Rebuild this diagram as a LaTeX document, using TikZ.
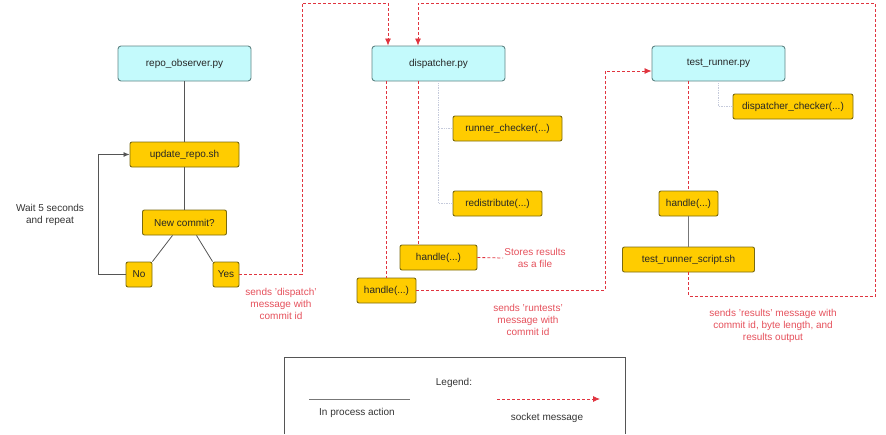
\documentclass[tikz,border=0pt]{standalone}
\usepackage{fontspec}
\setmainfont{Liberation Sans}
\usetikzlibrary{arrows.meta}

\definecolor{pyfill}{HTML}{C4FAFC}
\definecolor{pyline}{HTML}{5F8585}
\definecolor{fnfill}{HTML}{FFCC00}
\definecolor{fnline}{HTML}{7A6A10}
\definecolor{sockred}{HTML}{E0343F}
\definecolor{labred}{HTML}{E5505B}
\definecolor{procgray}{HTML}{555555}
\definecolor{dotgray}{HTML}{C5CADB}

\tikzset{
  pybox/.style={draw=pyline, line width=0.9pt, fill=pyfill, rounded corners=3pt, minimum width=133pt, minimum height=35pt, inner sep=0pt, text=black!85},
  fnbox/.style={draw=fnline, line width=0.9pt, fill=fnfill, rounded corners=2pt, minimum height=25pt, inner sep=0pt, text=black!85},
  procline/.style={procgray, line width=0.8pt},
  sockline/.style={sockred, line width=0.8pt, dash pattern=on 3pt off 2pt},
  sockmsg/.style={sockline, -{Latex[length=7pt,width=6pt]}},
  helper/.style={dotgray, line width=0.7pt, densely dotted},
  redlabel/.style={text=labred, align=center, inner sep=1pt}
}

\begin{document}
\begin{tikzpicture}[x=1pt, y=-1pt, font=\fontsize{10}{12}\selectfont]
\useasboundingbox (0,0) rectangle (886,434);

% processes
\node (repo) at (184.5, 63.5)[pybox] {repo\_observer.py};
\node (disp) at (438.5, 63.5)[pybox] {dispatcher.py};
\node (test) at (718.5, 63.5)[pybox] {test\_runner.py};

% repo observer side
\node (update) at (184.5, 154.5)[fnbox, minimum width=109pt] {update\_repo.sh};
\node (newc) at (184.5, 222.5)[fnbox, minimum width=84pt] {New commit?};
\node (no) at (139, 274.5)[fnbox, minimum width=26pt] {No};
\node (yes) at (226, 274.5)[fnbox, minimum width=26pt] {Yes};
\node (wait) at (50, 215)[align=center, text=black!80] {Wait 5 seconds\\and repeat};

\draw[procline] (repo) -- (update);
\draw[procline] (update) -- (newc);
\draw[procline] ([xshift=-12pt]newc.south) -- (no.north east);
\draw[procline] ([xshift=12pt]newc.south) -- (yes.north west);
\draw[procline, -{Latex[length=6pt,width=5pt]}] (no.west) -- ++(-27,0) |- (update.west);

% dispatcher side
\node (runchk) at (507.5, 128.5)[fnbox, minimum width=109pt] {runner\_checker(...)};
\node (redist) at (497.5, 203.5)[fnbox, minimum width=89pt] {redistribute(...)};
\node (handleA) at (438.5, 257.5)[fnbox, minimum width=77pt] {handle(...)};
\node (handleB) at (386.5, 290.5)[fnbox, minimum width=59pt] {handle(...)};
\node (stores) at (535, 258)[redlabel] {Stores results\\as a file};

\draw[helper] (disp.south) |- (runchk.west);
\draw[helper] (disp.south) |- (redist.west);
\draw[sockline] ([xshift=-20.5pt]disp.south) -- ([xshift=-20.5pt]handleA.north);
\draw[sockline] ([xshift=-52pt]disp.south) -- (handleB.north);
\draw[sockline] (handleA.east) -- (stores.west);

% test runner side
\node (dchk) at (793, 106.5)[fnbox, minimum width=120pt] {dispatcher\_checker(...)};
\node (handleC) at (688.5, 203.5)[fnbox, minimum width=59pt] {handle(...)};
\node (script) at (688.5, 259.5)[fnbox, minimum width=132pt] {test\_runner\_script.sh};

\draw[helper] (test.south) |- (dchk.west);
\draw[sockline] ([xshift=-30pt]test.south) -- (handleC.north);
\draw[procline, procgray!80] (handleC) -- (script);

% socket messages
\coordinate (dispTop) at (302, 3);
\coordinate (resTop) at (875, 3);
\coordinate (runBend) at (605, 71);
\draw[sockmsg] (yes.east) -| (dispTop) -| ([xshift=-50.5pt]disp.north);
\draw[sockmsg] (handleB.east) -| (runBend) -- ([yshift=-7.5pt]test.west);
\draw[sockmsg] (script.south) -- ++(0,24) -| (resTop) -| ([xshift=-20.5pt]disp.north);

\node (dispmsg) at (281, 304)[redlabel] {sends 'dispatch'\\message with\\commit id};
\node (runmsg) at (528, 320)[redlabel] {sends 'runtests'\\message with\\commit id};
\node (resmsg) at (773, 326)[redlabel] {sends 'results' message with\\commit id, byte length, and\\results output};

% legend
\draw[procgray, line width=0.8pt] (284,434) |- (625,357) -- (625,434);
\node (legend) at (454, 383)[text=black!80] {Legend:};
\coordinate (procA) at (309, 399);
\coordinate (procB) at (410, 399);
\coordinate (sockA) at (497, 399);
\coordinate (sockB) at (600, 399);
\draw[procline, procgray!80] (procA) -- (procB);
\draw[sockmsg] (sockA) -- (sockB);
\node (proctext) at (357, 413)[text=black!80] {In process action};
\node (socktext) at (547, 418)[text=black!80] {socket message};
\end{tikzpicture}
\end{document}
